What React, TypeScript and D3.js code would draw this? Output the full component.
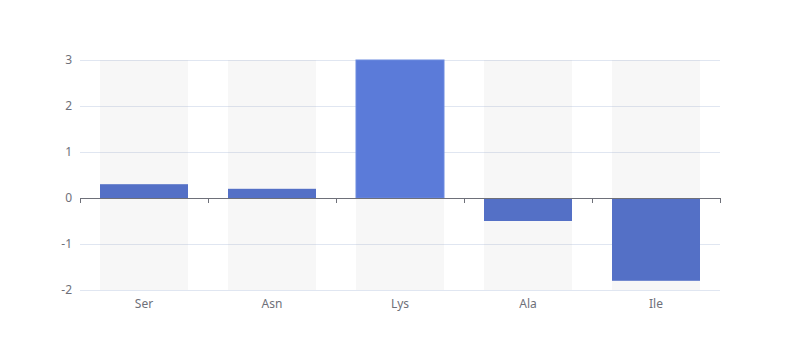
import React from "react";
import * as d3 from "d3";

const categories = ["Ser", "Asn", "Lys", "Ala", "Ile"];
const values = [0.3, 0.2, 3, -0.5, -1.8];
const yTicks = [-2, -1, 0, 1, 2, 3];
const highlighted = "Lys";

export default function App() {
  const W = 800, H = 360;
  const left = 80, right = 720, top = 60, bottom = 290;
  const x = d3.scaleBand<string>().domain(categories).range([left, right]);
  const y = d3.scaleLinear().domain([-2, 3]).range([bottom, top]);
  const bw = 88;
  const font = "'Noto Sans', sans-serif";
  return (
    <svg width={W} height={H} style={{ position: "absolute", left: 0, top: 0 }}>
      <rect width={W} height={H} fill="#fff" />
      {yTicks.map((t) => (
        <line key={t} x1={left} x2={right} y1={y(t) + 0.5} y2={y(t) + 0.5} stroke="#e0e6f1" />
      ))}
      {categories.map((c) => {
        const cx = x(c)! + x.bandwidth() / 2;
        return <rect key={"bg" + c} x={cx - bw / 2} y={top} width={bw} height={bottom - top} fill="rgba(180,180,180,0.11)" />;
      })}
      {categories.map((c, i) => {
        const cx = x(c)! + x.bandwidth() / 2;
        const v = values[i];
        const y0 = y(0), y1 = y(v);
        const hl = c === highlighted;
        return (
          <rect
            key={"b" + c}
            x={cx - bw / 2}
            y={Math.min(y0, y1)}
            width={bw}
            height={Math.abs(y1 - y0)}
            fill={hl ? "#5b7bd9" : "#5470c6"}
            stroke={hl ? "#6d8be0" : "none"}
            strokeWidth={hl ? 1 : 0}
          />
        );
      })}
      <line x1={left} x2={right} y1={y(0) + 0.5} y2={y(0) + 0.5} stroke="#6e7079" />
      {[...categories.map((c) => x(c)!), right].map((tx, i) => (
        <line key={"t" + i} x1={tx + 0.5} x2={tx + 0.5} y1={y(0)} y2={y(0) + 5} stroke="#6e7079" />
      ))}
      {yTicks.map((t) => (
        <text key={"yl" + t} x={72} y={y(t)} dy="0.35em" textAnchor="end" fontSize={12} fill="#6e7079" fontFamily={font}>
          {t}
        </text>
      ))}
      {categories.map((c) => (
        <text key={"xl" + c} x={x(c)! + x.bandwidth() / 2} y={bottom + 8} dy="0.8em" textAnchor="middle" fontSize={12} fill="#6e7079" fontFamily={font}>
          {c}
        </text>
      ))}
    </svg>
  );
}
